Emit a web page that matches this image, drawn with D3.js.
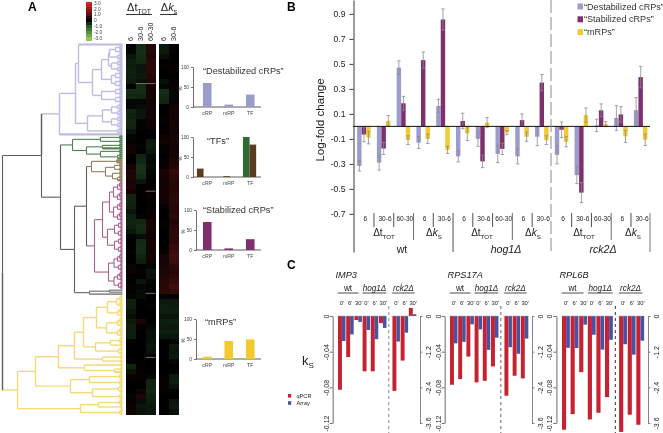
<!DOCTYPE html>
<html><head><meta charset="utf-8">
<script src="https://cdn.jsdelivr.net/npm/d3@7"></script>
<style>
html,body{margin:0;padding:0;background:#fff}
svg{display:block;font-family:"Liberation Sans",Arial,sans-serif;filter:blur(.3px)}
</style></head><body><svg id="c" width="663" height="433"></svg>
<script>
// ---------- Panel A: heat map (columns, read row by row) ----------
const heatCols=["6","30-6","60-30","6","30-6"];
const hm1=[0,-.1,-.3,-.4,-.4,-.45,-.4,-.35,-.05,-.6,-.55,-.1,-.1,-.5,-.45,-.55,-.5,-.3,-.1,-.05,.2,.25,.05,0,.3,.4,.4,.35,.4,.3,-.5,-.5,-.45,-.3,-.45,-.5,-.45,-.3,-.1,0,0,.05,0,0,.15,.15,.05,0,.05,.05,-.1,-.4,-.4,-.3,-.2,-.35,-.45,-.4,-.4,-.05,0,0,0,-.05,-.5,-.25,.15,.05,0,0,-.1,.1,.15,.2];
const hm2=[-.6,-.65,-.6,-.55,-.3,-.3,-.35,-.25,-.6,-.6,-.5,-.1,-.15,-.3,-.3,-.05,-.05,0,0,0,-.05,-.02,-.5,-.55,-.7,-.7,-.6,-.3,0,0,0,0,0,0,-.05,-.5,-.6,-.55,-.2,-.55,-.6,-.6,-.5,-.4,0,-.05,0,-.3,-.1,-.15,-.15,0,0,0,0,.35,.1,0,0,0,0,0,0,.05,.05,.05,.1,0,0,.2,.4,-.2,-.3,-.25];
const hm3=[.5,.5,.45,.55,.6,.6,.5,.45,.3,.3,.3,.25,.3,.25,.3,.2,.2,.05,0,-.35,-.4,-.3,-.15,-.1,-.15,-.1,-.05,0,.1,.1,.15,.1,.05,.1,.1,.3,.3,.25,.2,.3,.3,.25,.3,.2,-.1,-.3,-.25,-.1,-.05,0,0,0,-.05,0,0,0,-.1,-.2,-.2,-.25,-.3,-.25,-.1,0,0,0,-.1,-.5,-.5,-.55,-.45,-.4,-.3,-.3];
const hm4=[-.35,-.35,-.2,0,.05,0,0,-.2,-.1,-.6,-.55,-.5,0,0,.05,.05,0,.1,.15,.2,.1,.05,0,.1,.1,.3,.3,.25,.3,.25,.3,.25,.1,0,0,.05,.05,0,0,0,0,.1,.3,.3,.35,.4,.4,.5,.5,.6,-.1,-.35,-.4,-.4,-.3,-.4,-.35,-.4,-.3,0,0,0,0,0,0,0,.05,.1,.1,.05,0,0,0,0];
const hm5=[.05,.05,0,.05,.1,.1,.05,.1,.15,-.1,-.1,-.05,.2,.3,.25,.3,.3,.25,.3,.3,.25,.3,.3,.4,.5,.7,.6,.5,.5,.5,.55,.6,.5,.5,.6,.45,.5,.55,.6,.6,.7,.8,.9,.8,.6,.5,.6,.7,.9,.7,.1,-.35,-.35,-.4,-.3,-.45,-.35,-.4,-.3,-.1,-.35,-.3,-.35,-.1,0,-.05,-.35,-.4,-.25,-.05,0,-.3,-.35,-.25];
const heatGaps=[[1,7.9],[2,7.9],[2,29.4],[2,49.8],[2,62.6]]; // [column, row] of light cells
const heatLegendSteps=[3,2.5,2,1.5,1,.5,0,-.5,-1,-1.5,-2,-2.5,-3];
const heatLegendLabels=[3,2,1,0,-1,-2,-3];

// ---------- Panel A: dendrogram, nested as [height, child, child]; 0 is a leaf ----------
const u2=[2,0,0],u3=[3,u2,0],u4=[4,u2,u2],u5=[5,u3,u2],u6=[6,u3,u3],u8=[8,u4,u4],u9=[8.5,u5,u4],u10=[9,u5,u5];
const t2=[3,0,0],t3=[5,t2,0],t4=[7,t2,t2],t5=[9,t3,t2],t6=[11,t3,t3],t7=[13,t4,t3];
const treeLav=[63,[47,[44,0,[30,[21,[14,t7,t6],[11,t4,t4]],[21,t4,t4]]],[35,[20,t6,t6],t3]],0];
const treeGreen=[50,[22,t2,t2],[36,[20,t2,0],[22,t2,t3]]];
const treeBrown=[31,[6,0,0],[17,[8,t2,t2],[10,t2,t3]]];
const treePink=[28,[20,[13,u10,u10],[15,u8,u8]],[14,u9,u9]];
const treeTail=[33,[13,0,0],0];
const treeYellow=[105,[87,[64,[48,[39,[26,[15,u6,u5],[16,u5,u5]],[27,[12,u3,u2],u4]],[20,u2,u2]],[38,u2,[8,u2,0]]],[52,[33,u3,u3],[30,u4,u3]]],[42,[24,u3,u2],u3]];
const treeRoot=[120,[81,treeLav,[62,treeGreen,[48,[36,treeBrown,treePink],treeTail]]],treeYellow];
const treeColors=new Map([[treeLav,"#bcbce0"],[treeGreen,"#4f7f50"],[treeBrown,"#8f7d5c"],[treePink,"#a8608f"],[treeTail,"#666666"],[treeYellow,"#f3d97a"]]);

// ---------- Panel A: small bar charts ----------
const insetCats=["cRP","mRP","TF"];
const insDestab=[60,6,31], insTFa=[0,0,100], insTFb=[21,2,81], insStab=[70,4,27], insMrp=[6,45,49];

// ---------- Panel B ----------
const bGroups=["6","30-6","60-30","6","30-6","6","30-6","60-30","6","30-6","6","30-6","60-30","6","30-6"];
const bLav=[-.316,-.29,.47,-.13,.163,-.24,-.1,-.22,-.24,-.083,-.228,-.39,.008,.067,.13];
const bPur=[-.065,-.177,.185,.53,.855,.043,-.28,-.18,.05,.35,-.027,-.53,.128,.096,.394];
const bYel=[-.09,.045,-.11,-.1,-.188,-.056,.03,-.05,-.083,-.11,-.123,.09,.018,-.08,-.107];
const eLav=[.041,.06,.055,.047,.054,.044,.06,.07,.06,.072,.072,.068,.05,.099,.1];
const ePur=[.058,.048,.055,.065,.085,.062,.05,.045,.05,.065,.062,.08,.052,.062,.086];
const eYel=[.05,.041,.035,.037,.029,.057,.04,.017,.037,.035,.04,.057,.02,.048,.046];
const bTicks=[.9,.7,.5,.3,.1,-.1,-.3,-.5,-.7];
const bLegend=["“Destabilized cRPs”","“Stabilized cRPs”","“mRPs”"];

// ---------- Panel C ----------
const cTimes=["0'","6'","30'","0'","6'","30'","0'","6'","30'"];
const imp3Q=[-.0827,-.046,-.0045,-.062,-.062,-.008,-.084,-.05,.009];
const imp3A=[-.84,-.62,-.2,-.47,-.78,-.4,-.86,-.56,.06];
const rpsQ=[-.0771,-.0708,-.0455,-.0745,-.0727,-.0566,-.0894,-.067,-.07];
const rpsA=[-.92,-.87,-.28,-.45,-1.14,-.73,-1.05,-1.27,-.76];
const rplQ=[-.1275,-.11,-.063,-.116,-.1085,-.091,-.13,-.1107,-.122];
const rplA=[-1.07,-1.08,-.29,-.63,-1.13,-.8,-.95,-1.3,-.83];
const cLeftTicks=[0,-.04,-.08,-.12], cRightTicks=[0,-1.2,-2.4,-3.6];

const COL={lav:"#9c9ccc",pur:"#7e2f6c",yel:"#f2ca30",red:"#c8212f",blue:"#47539f",txt:"#222"};
const svg=d3.select("#c");
function txt(g,x,y,s,size,o={}){
  const t=g.append("text").attr("x",x).attr("y",y).attr("font-size",size).attr("fill",o.fill||COL.txt)
    .attr("text-anchor",o.anchor||"start").text(s);
  if(o.bold)t.attr("font-weight","bold");
  if(o.italic)t.attr("font-style","italic");
  if(o.rot!==undefined)t.attr("transform",`rotate(${o.rot} ${x} ${y})`);
  return t;
}
function delta(g,cx,y,letter,sub,size,italic){
  const t=g.append("text").attr("x",cx).attr("y",y).attr("font-size",size).attr("fill",COL.txt).attr("text-anchor","middle");
  t.append("tspan").text("Δ");
  const l=t.append("tspan").text(letter); if(italic)l.attr("font-style","italic");
  t.append("tspan").attr("dy",size*.28).attr("font-size",size*.62).text(sub);
}
["A","B","C"].forEach((s,i)=>txt(svg,[28,287,287][i],[11,11,269][i],s,12,{bold:true,fill:"#000"}));

// ===== Panel A heat map
const heatData=[hm1,hm2,hm3,hm4,hm5];
const heatColor=d3.scaleLinear().domain([-3,-1,0,1,3]).range(["#8cc850","#2a5a2c","#000000","#5c1212","#d8262c"]);
const nRows=hm1.length;
const yHeat=d3.scaleLinear().domain([0,nRows]).range([44,414.5]);
const xHeatA=d3.scaleBand().domain([0,1,2]).range([125.8,155.5]);
const xHeatB=d3.scaleBand().domain([3,4]).range([158.7,178.3]);
const xHeat=c=>c<3?xHeatA(c):xHeatB(c);
const wHeat=c=>c<3?xHeatA.bandwidth():xHeatB.bandwidth();
const gH=svg.append("g");
heatData.forEach((col,c)=>{
  gH.selectAll(null).data(col).join("rect").attr("shape-rendering","crispEdges")
    .attr("x",xHeat(c)).attr("width",wHeat(c)+.3)
    .attr("y",(d,i)=>yHeat(i)).attr("height",yHeat(1)-yHeat(0)+.6)
    .attr("fill",d=>heatColor(d*.8));
});
gH.selectAll("line").data(heatGaps).join("line")
  .attr("x1",d=>xHeat(d[0])).attr("x2",d=>xHeat(d[0])+wHeat(d[0]))
  .attr("y1",d=>yHeat(d[1])).attr("y2",d=>yHeat(d[1])).attr("stroke","#8a8a8a").attr("stroke-width",.8);
heatCols.forEach((s,c)=>{
  txt(svg,xHeat(c)+wHeat(c)/2+2.6,41,s,7.2,{rot:-90});
});
delta(svg,139,11,"t","TOT",11);
delta(svg,169,11,"k","s",11,true);
svg.append("line").attr("x1",126).attr("x2",152).attr("y1",14.5).attr("y2",14.5).attr("stroke","#333");
svg.append("line").attr("x1",160).attr("x2",177).attr("y1",14.5).attr("y2",14.5).attr("stroke","#333");

// colour key
const yKey=d3.scaleBand().domain(heatLegendSteps).range([1.5,40]);
svg.selectAll(".key").data(heatLegendSteps).join("rect").attr("class","key").attr("shape-rendering","crispEdges")
  .attr("x",86).attr("width",5.5).attr("y",d=>yKey(d)).attr("height",yKey.bandwidth()+.5).attr("fill",d=>heatColor(d));
const yKeyL=d3.scaleLinear().domain([3,-3]).range([3,38]);
heatLegendLabels.forEach(v=>txt(svg,94,yKeyL(v)+1.7,v===0?"0":v.toFixed(1),4.8,{fill:"#444"}));

// ===== dendrogram
const root=d3.hierarchy(treeRoot,d=>Array.isArray(d)?d.slice(1):null);
const xTree=d3.scaleLinear().domain([0,120]).range([122.5,2.5]);
const leaves=root.leaves();
const yTree=d3.scaleLinear().domain([0,leaves.length-1]).range([44.5,414]);
leaves.forEach((l,i)=>{l.py=yTree(i);});
root.eachAfter(n=>{
  n.px=xTree(Array.isArray(n.data)?n.data[0]:0);
  if(n.children)n.py=(n.children[0].py+n.children[n.children.length-1].py)/2;
});
root.eachBefore(n=>{
  n.color=treeColors.get(n.data)||(n.parent?n.parent.color:null)||"#5c5c5c";
});
const gT=svg.append("g").attr("fill","none");
root.descendants().filter(n=>n.parent).forEach(n=>{
  const light=n.color==="#f3d97a"||n.color==="#bcbce0";
  const tail=n.color==="#666666";
  gT.append("path").attr("stroke",n.color).attr("stroke-width",(n.height===0&&!tail)?2.1:(light?1.4:1.1))
    .attr("d",d3.line()([[n.parent.px,n.py],[n.px,n.py]]));
  gT.append("path").attr("stroke",n.parent.color).attr("stroke-width",light?1.4:1.1)
    .attr("d",d3.line()([[n.parent.px,n.parent.py],[n.parent.px,n.py]]));
});

// ===== insets
function inset(cfg){
  const g=svg.append("g");
  const y=d3.scaleLinear().domain([0,100]).range([cfg.bottom,cfg.bottom-40]);
  const x=d3.scaleBand().domain(insetCats).range([196.5,261]).paddingInner(.6).paddingOuter(.3);
  g.append("g").attr("transform",`translate(${cfg.x0},0)`)
    .call(d3.axisLeft(y).tickValues([0,50,100]).tickSize(2).tickSizeOuter(0))
    .call(a=>a.selectAll("text").attr("font-size",4.8).attr("font-family","inherit").attr("fill","#444").attr("dx",1))
    .call(a=>a.selectAll("path,line").attr("stroke","#333").attr("stroke-width",.7));
  g.append("g").attr("transform",`translate(0,${cfg.bottom})`)
    .call(d3.axisBottom(x).tickSize(0).tickPadding(4))
    .call(a=>a.selectAll("text").attr("font-size",5.2).attr("font-family","inherit").attr("fill","#444"))
    .call(a=>a.selectAll("path").attr("d",`M${cfg.x0},0H261`).attr("stroke","#333").attr("stroke-width",.8));
  if(cfg.series.length===1){
    g.selectAll("rect").data(cfg.series[0].v).join("rect")
      .attr("x",(d,i)=>x(insetCats[i])).attr("width",x.bandwidth())
      .attr("y",d=>y(d)).attr("height",d=>y(0)-y(d)).attr("fill",cfg.series[0].c);
  }else{
    cfg.series.forEach(s=>{
      g.selectAll(null).data(s.v).join("rect")
        .attr("x",(d,i)=>x(insetCats[i])+s.dodge[i]).attr("width",6.6)
        .attr("y",d=>y(d)).attr("height",d=>y(0)-y(d)).attr("fill",s.c);
    });
  }
  txt(g,cfg.x0-11,y(50)+1.5,"%",4.8,{rot:-90,anchor:"middle",fill:"#444"});
  txt(g,cfg.tx,cfg.ty,cfg.title,9.2,{fill:"#333"});
}
inset({x0:193,bottom:107,series:[{v:insDestab,c:COL.lav}],title:"“Destabilized cRPs”",tx:203,ty:73.5});
inset({x0:193,bottom:177,series:[{v:insTFa,c:"#2f6b34",dodge:[0,0,-3]},{v:insTFb,c:"#5a3d1c",dodge:[-6,-1,3.6]}],title:"“TFs”",tx:207,ty:143.5});
inset({x0:196,bottom:250,series:[{v:insStab,c:COL.pur}],title:"“Stabilized cRPs”",tx:203,ty:213});
inset({x0:196,bottom:359,series:[{v:insMrp,c:COL.yel}],title:"“mRPs”",tx:205,ty:324.5});

// ===== Panel B
const gB=svg.append("g");
const yB=d3.scaleLinear().domain([-1.005,1.011]).range([252,0]);
const xB=d3.scaleBand().domain(d3.range(15)).range([355.2,355.2+19.77*15]);
const bw=4.55;
const bSeries=[{v:bLav,e:eLav,c:COL.lav},{v:bPur,e:ePur,c:COL.pur},{v:bYel,e:eYel,c:COL.yel}];
bSeries.forEach((s,k)=>{
  const bx=i=>xB(i)+1.9+k*bw;
  gB.selectAll(null).data(s.v).join("rect")
    .attr("x",(d,i)=>bx(i)).attr("width",bw-.1)
    .attr("y",d=>yB(Math.max(d,0))).attr("height",d=>Math.abs(yB(d)-yB(0))).attr("fill",s.c);
});
bSeries.forEach((s,k)=>{
  const bx=i=>xB(i)+1.9+k*bw+bw/2;
  const g=gB.append("g").attr("stroke","#8c8c8c").attr("stroke-width",.8);
  s.v.forEach((d,i)=>{
    const a=yB(d-s.e[i]),b=yB(d+s.e[i]),x=bx(i);
    g.append("line").attr("x1",x).attr("x2",x).attr("y1",a).attr("y2",b);
    [a,b].forEach(yy=>g.append("line").attr("x1",x-1.7).attr("x2",x+1.7).attr("y1",yy).attr("y2",yy));
  });
});
gB.append("g").attr("transform","translate(353.5,0)")
  .call(d3.axisLeft(yB).tickValues(bTicks).tickSize(4).tickSizeOuter(0).tickPadding(4).tickFormat(d=>String(d)))
  .call(a=>a.selectAll("text").attr("font-size",8.6).attr("font-family","inherit").attr("fill",COL.txt))
  .call(a=>a.selectAll("path,line").attr("stroke","#222").attr("stroke-width",.9));
gB.append("line").attr("x1",353).attr("x2",650).attr("y1",yB(0)).attr("y2",yB(0)).attr("stroke","#111").attr("stroke-width",1);
txt(gB,324,120,"Log-fold change",11.6,{rot:-90,anchor:"middle"});
gB.append("line").attr("x1",551).attr("x2",551).attr("y1",0).attr("y2",252).attr("stroke","#8a8a8a").attr("stroke-width",1).attr("stroke-dasharray","13 4");
bGroups.forEach((s,i)=>{
  txt(gB,xB(i)+xB.bandwidth()/2+.2,220.5,s,6.6,{anchor:"middle"});
  if(i===0||i===10) return;
  const edge=xB(i);
  const kind=[5].includes(i)?3:[3,8,13].includes(i)?2:1;
  const y2=kind===3?252:kind===2?240:227;
  gB.append("line").attr("x1",edge-1).attr("x2",edge-1).attr("y1",213).attr("y2",y2)
    .attr("stroke",kind===2?"#777":"#222").attr("stroke-width",kind===2?1.1:.8);
});
gB.append("line").attr("x1",650).attr("x2",650).attr("y1",213).attr("y2",252).attr("stroke","#777").attr("stroke-width",1);
[[384,434,402,"wt",false],[482,533,506,"hog1Δ",true],[584,633,603,"rck2Δ",true]].forEach(r=>{
  delta(gB,r[0],236,"t","TOT",10);
  delta(gB,r[1],236,"k","S",10,true);
  txt(gB,r[2],253,r[3],10.6,{anchor:"middle",italic:r[4]});
});
bLegend.forEach((s,i)=>{
  const y=6.5+i*12.8,c=[COL.lav,COL.pur,COL.yel][i];
  gB.append("rect").attr("x",577.5).attr("y",y-3).attr("width",5.5).attr("height",6).attr("fill",c);
  txt(gB,584,y+3,s,9.1,{fill:"#333"});
});

// ===== Panel C
function panelC(cfg){
  const g=svg.append("g");
  const x=d3.scaleLinear().domain([0,1]).range([cfg.x0,cfg.x0+cfg.step]);
  const slots=[0,1,2,3,4,5,6.64,7.64,8.64];
  const yL=d3.scaleLinear().domain([-.12,0]).range([423,316]);
  const yR=d3.scaleLinear().domain([-3.6,0]).range([423,316]);
  const w=cfg.step*.48;
  g.selectAll(null).data(cfg.q).join("rect").attr("x",(d,i)=>x(slots[i])).attr("width",w)
    .attr("y",d=>yL(Math.max(d,0))).attr("height",d=>Math.abs(yL(d)-yL(0))).attr("fill",COL.red);
  g.selectAll(null).data(cfg.a).join("rect").attr("x",(d,i)=>x(slots[i])+w).attr("width",w*.9)
    .attr("y",d=>yR(Math.max(d,0))).attr("height",d=>Math.abs(yR(d)-yR(0))).attr("fill",COL.blue);
  g.append("line").attr("x1",x(-.1)).attr("x2",x(5.9)).attr("y1",316).attr("y2",316).attr("stroke","#aab").attr("stroke-width",.6);
  g.append("line").attr("x1",x(6.5)).attr("x2",x(9.3)).attr("y1",316).attr("y2",316).attr("stroke","#aab").attr("stroke-width",.6);
  g.append("g").attr("transform",`translate(${x(-.65)},0)`)
    .call(d3.axisLeft(yL).tickValues(cLeftTicks).tickSize(3).tickSizeOuter(0).tickFormat(d=>String(d)))
    .call(a=>a.selectAll("path,line").attr("stroke","#444").attr("stroke-width",.8))
    .call(a=>a.selectAll("text").attr("font-size",7).attr("font-family","inherit").attr("fill",COL.txt)
      .attr("x",0).attr("dy",0).attr("text-anchor","middle").attr("dominant-baseline","central")
      .attr("transform","translate(-6.5,0) rotate(-90)"));
  g.append("g").attr("transform",`translate(${x(10)},0)`)
    .call(d3.axisRight(yR).tickValues(cRightTicks).tickSize(2.5).tickSizeOuter(0).tickFormat(d=>String(d)))
    .call(a=>a.selectAll("path,line").attr("stroke","#777").attr("stroke-width",.9))
    .call(a=>a.selectAll("text").attr("font-size",7).attr("font-family","inherit").attr("fill",COL.txt)
      .attr("x",0).attr("dy",0).attr("text-anchor","middle").attr("dominant-baseline","central")
      .attr("transform","translate(8,0) rotate(-90)"));
  g.append("line").attr("x1",x(6.2)).attr("x2",x(6.2)).attr("y1",306).attr("y2",433)
    .attr("stroke",cfg.dash).attr("stroke-width",1).attr("stroke-dasharray","3 3");
  txt(g,x(-.3),278,cfg.title,9.2,{italic:true});
  [["wt",-.05,2.5,false],["hog1Δ",3,5.9,true],["rck2Δ",6.6,9.35,true]].forEach(h=>{
    const x1=x(h[1]),x2=x(h[2]);
    g.append("line").attr("x1",x1).attr("x2",x2).attr("y1",293).attr("y2",293).attr("stroke","#222").attr("stroke-width",.8);
    txt(g,(x1+x2)/2,290.5,h[0],8.2,{anchor:"middle",italic:h[3]});
  });
  cTimes.forEach((t,i)=>txt(g,x(slots[i])+w+(i%3==2?.4:0),304.8,t,5.8,{anchor:"middle"}));
}
panelC({x0:338,step:8.2,q:imp3Q,a:imp3A,title:"IMP3",dash:"#888"});
panelC({x0:450,step:8.2,q:rpsQ,a:rpsA,title:"RPS17A",dash:"#666"});
panelC({x0:562,step:8.6,q:rplQ,a:rplA,title:"RPL6B",dash:"#333"});
const kt=txt(svg,302,365,"k",13);
kt.append("tspan").attr("dy",2.5).attr("font-size",8).text("S");
[["qPCR",COL.red,396],["Array",COL.blue,403.2]].forEach(r=>{
  svg.append("rect").attr("x",288).attr("y",r[2]-2).attr("width",3.2).attr("height",3.6).attr("fill",r[1]);
  txt(svg,296.5,r[2]+1.8,r[0],5.6);
});
</script></body></html>
